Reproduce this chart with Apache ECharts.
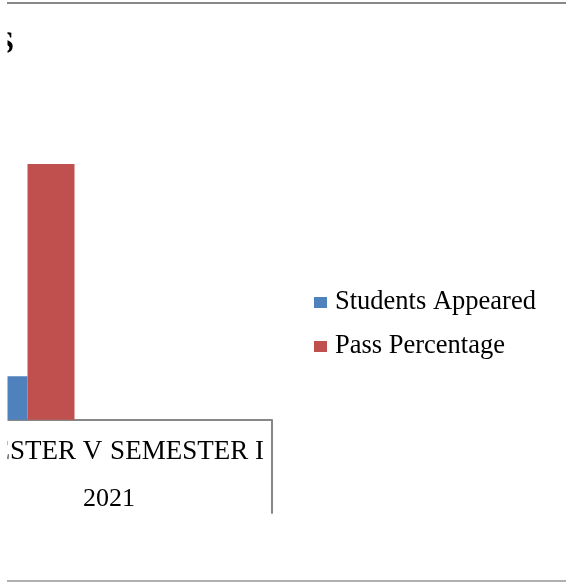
<!DOCTYPE html>
<html>
<head>
<meta charset="utf-8">
<script src="https://cdn.jsdelivr.net/npm/echarts@6/dist/echarts.min.js"></script>
<style>
html,body{margin:0;padding:0;background:#fff;}
#chart{width:566px;height:582px;}
</style>
</head>
<body>
<div id="chart"></div>
<script>
const titleText = 'RESULTS';
const categories = ['SEMESTER V', 'SEMESTER I'];
const yearLabels = ['2021'];
const seriesNames = ['Students Appeared', 'Pass Percentage'];
const studentsAppeared = [17, null];
const passPercentage = [100, null];

const FONT = '"Liberation Serif", "Times New Roman", serif';
const chart = echarts.init(document.getElementById('chart'), null, {renderer: 'canvas'});
chart.setOption({
  animation: false,
  backgroundColor: '#ffffff',
  color: ['#4F81BD', '#C0504D'],
  grid: {left: -54, right: 294, top: 113, bottom: 162.3, containLabel: false, outerBoundsMode: 'none'},
  legend: {
    orient: 'vertical', left: 309, top: 284,
    itemWidth: 13, itemHeight: 11, itemGap: 17,
    icon: 'rect',
    textStyle: {fontFamily: FONT, fontSize: 26.5, color: '#000', padding: [0, 0, 0, 3]},
    data: seriesNames
  },
  xAxis: [{
    type: 'category', data: categories, position: 'bottom', offset: 0,
    axisLine: {show: true, lineStyle: {color: '#878787', width: 2}},
    axisTick: {show: false},
    axisLabel: {
      interval: 0, margin: 19, fontFamily: FONT, fontSize: 27, color: '#000',
      formatter: function (v, i) { return '{c' + i + '|' + v + '}'; },
      rich: {
        c0: {fontFamily: FONT, fontSize: 27, color: '#000', padding: [0, 15, 0, 0]},
        c1: {fontFamily: FONT, fontSize: 27, color: '#000', padding: [0, 7, 0, 0]}
      }
    }
  }, {
    type: 'category', data: yearLabels, position: 'bottom', offset: 0,
    axisLine: {show: false},
    axisTick: {show: true, length: 94, interval: 0, lineStyle: {color: '#878787', width: 2}},
    axisLabel: {interval: 0, margin: 66, fontFamily: FONT, fontSize: 26, color: '#000'}
  }],
  yAxis: {type: 'value', min: 0, max: 120, show: false, splitLine: {show: false}},
  series: [
    {name: seriesNames[0], type: 'bar', data: studentsAppeared, barWidth: 47, barGap: '0%', xAxisIndex: 0},
    {name: seriesNames[1], type: 'bar', data: passPercentage, barWidth: 47, barGap: '0%', xAxisIndex: 0}
  ],
  graphic: [
    {type: 'text', z: 50, style: {text: titleText, x: 14, y: 45, align: 'right', verticalAlign: 'middle',
      fontFamily: FONT, fontSize: 31, fontWeight: 'bold', fill: '#000'}},
    {type: 'rect', z: 100, shape: {x: 0, y: 0, width: 7.5, height: 582}, style: {fill: '#ffffff'}},
    {type: 'line', z: 101, shape: {x1: 7, y1: 3, x2: 566, y2: 3}, style: {stroke: '#888888', lineWidth: 2}},
    {type: 'line', z: 101, shape: {x1: 7, y1: 581, x2: 566, y2: 581}, style: {stroke: '#b0b0b0', lineWidth: 2}}
  ]
});
</script>
</body>
</html>
